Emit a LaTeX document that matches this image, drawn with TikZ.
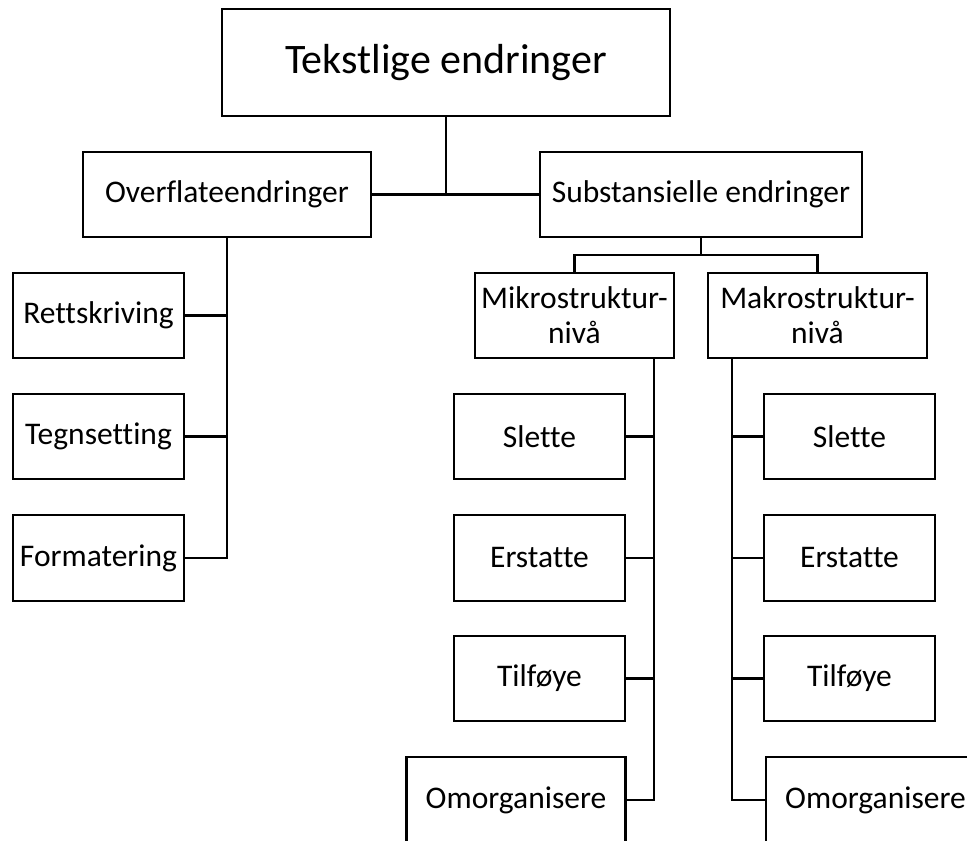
\documentclass[tikz,border=0pt]{standalone}
\usepackage{fontspec}
\setmainfont[Ligatures={NoCommon}]{Carlito}
\begin{document}
\begin{tikzpicture}[x=1pt,y=-1pt,line width=2.2pt,
  box/.style={draw,rectangle,inner sep=0pt,minimum height=85pt,align=center,
    font=\fontsize{31.5}{35}\selectfont},
  link/.style={draw,line width=2.2pt}]
\clip (0,0) rectangle (967,841);
\useasboundingbox (0,0) rectangle (967,841);

% root
\node[box,minimum width=448pt,minimum height=107pt,font=\fontsize{42}{46}\selectfont]
  (top) at (446,62.5) {Tekstlige endringer};

% second level
\node[box,minimum width=288pt] (over) at (227,194.5) {Overflateendringer};
\node[box,minimum width=322pt] (sub) at (701,194.5) {Substansielle endringer};

% surface changes
\node[box,minimum width=171pt] (retts) at (98.5,315.5) {Rettskriving};
\node[box,minimum width=171pt] (tegn) at (98.5,436.5) {Tegnsetting};
\node[box,minimum width=171pt,minimum height=86pt] (form) at (98.5,558) {Formatering};

% substantial changes: levels
\node[box,minimum width=199pt] (mikro) at (574.5,315.5) {Mikrostruktur-\\niv\aa};
\node[box,minimum width=219pt] (makro) at (817.5,315.5) {Makrostruktur-\\niv\aa};

% micro level operations
\node[box,minimum width=171pt] (mslette) at (539.5,436.5) {Slette};
\node[box,minimum width=171pt,minimum height=86pt] (merst) at (539.5,558) {Erstatte};
\node[box,minimum width=171pt] (mtilf) at (539.5,678.5) {Tilføye};
\node[box,minimum width=219pt,minimum height=86pt] (momorg) at (516,800) {Omorganisere};

% macro level operations
\node[box,minimum width=171pt] (aslette) at (849.5,436.5) {Slette};
\node[box,minimum width=171pt,minimum height=86pt] (aerst) at (849.5,558) {Erstatte};
\node[box,minimum width=171pt] (atilf) at (849.5,678.5) {Tilføye};
\node[box,minimum width=219pt,minimum height=86pt] (aomorg) at (875.5,800) {Omorganisere};

% root to second level
\draw[link] (top.south) -- (top.south |- over.east);
\draw[link] (over.east) -- (sub.west);

% surface rail
\draw[link] (over.south) |- (form.east);
\draw[link] (retts.east) -- (retts.east -| over.south);
\draw[link] (tegn.east) -- (tegn.east -| over.south);

% substantial split
\draw[link] (sub.south) -- ++(0,17) coordinate (sj);
\draw[link] (mikro.north) |- (sj) -| (makro.north);

% micro rail
\coordinate (mrail) at (654,358);
\draw[link] (mrail) |- (momorg.east);
\draw[link] (mslette.east) -- (mslette.east -| mrail);
\draw[link] (merst.east) -- (merst.east -| mrail);
\draw[link] (mtilf.east) -- (mtilf.east -| mrail);

% macro rail
\coordinate (arail) at (732,358);
\draw[link] (arail) |- (aomorg.west);
\draw[link] (aslette.west) -- (aslette.west -| arail);
\draw[link] (aerst.west) -- (aerst.west -| arail);
\draw[link] (atilf.west) -- (atilf.west -| arail);
\end{tikzpicture}
\end{document}
